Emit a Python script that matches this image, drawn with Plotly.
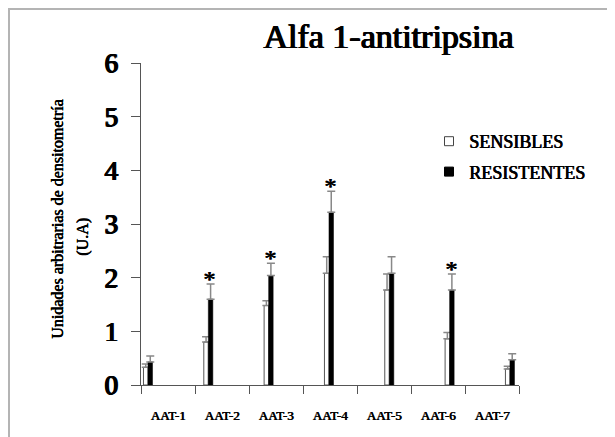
import plotly.graph_objects as go

categories = ["AAT-1", "AAT-2", "AAT-3", "AAT-4", "AAT-5", "AAT-6", "AAT-7"]
sensibles = [0.33, 0.80, 1.48, 2.08, 1.77, 0.86, 0.30]
sensibles_err = [0.06, 0.10, 0.09, 0.31, 0.30, 0.12, 0.05]
resistentes = [0.43, 1.60, 2.04, 3.22, 2.08, 1.77, 0.47]
resistentes_err = [0.11, 0.28, 0.23, 0.39, 0.31, 0.30, 0.11]
significant = [False, True, True, True, False, True, False]
y_ticks = [0, 1, 2, 3, 4, 5, 6]

SERIF = "Liberation Serif"
# Liberation Serif has no bold face installed: thicken strokes with a text shadow
B1 = "0.7px 0 0 black, 0.35px 0 0 black"
B2 = "1px 0 0 black, 0.5px 0 0 black"
B3 = "1.3px 0 0 black, 0.65px 0 0 black, 0 0.4px 0 black"

def f(size, shadow):
    return dict(family=SERIF, size=size, color="black", shadow=shadow)

pos = list(range(len(categories)))

# page body has an 8px margin: figure drawn 8px right/down
W, H = 607, 429
L, T = 133, 55
PW, PH = 378, 322

fig = go.Figure()
fig.add_trace(go.Bar(
    x=pos, y=sensibles, name="SENSIBLES", showlegend=False,
    marker=dict(color="white", line=dict(color="#555555", width=1)),
    error_y=dict(type="data", array=sensibles_err, arrayminus=[0] * len(pos),
                 symmetric=False, color="#888888", thickness=1.5, width=4),
))
fig.add_trace(go.Bar(
    x=pos, y=resistentes, name="RESISTENTES", showlegend=False,
    marker=dict(color="black", line=dict(color="black", width=0.5)),
    error_y=dict(type="data", array=resistentes_err, arrayminus=[0] * len(pos),
                 symmetric=False, color="#888888", thickness=1.5, width=4),
))
# legend entries
fig.add_trace(go.Scatter(x=[None], y=[None], mode="markers", name="SENSIBLES",
                         marker=dict(symbol="square", size=9, color="white",
                                     line=dict(color="#444444", width=1)),
                         legendgroup="a"))
fig.add_trace(go.Scatter(x=[None], y=[None], mode="markers", name="RESISTENTES",
                         marker=dict(symbol="square", size=9, color="black",
                                     line=dict(color="black", width=1)),
                         legendgroup="b"))

for i, sig in enumerate(significant):
    if sig:
        fig.add_annotation(x=pos[i], y=resistentes[i] + resistentes_err[i], xref="x", yref="y",
                           text="*", showarrow=False, yanchor="bottom",
                           yshift=-10, xshift=1, font=f(24, B2))

# y axis title (two lines)
fig.add_annotation(x=(57 - 141) / PW, y=(385 - 220) / PH, xref="paper", yref="paper",
                   xanchor="center", yanchor="middle",
                   text="Unidades arbitrarias de densitometría", textangle=-90,
                   showarrow=False, font=f(16, B1))
fig.add_annotation(x=(83 - 141) / PW, y=(385 - 237) / PH, xref="paper", yref="paper",
                   xanchor="center", yanchor="middle",
                   text="(U.A)", textangle=-90,
                   showarrow=False, font=f(16, B1))

# outer frame
fig.add_shape(type="rect", xref="paper", yref="paper",
              x0=(9 - 141) / PW, x1=2.0, y0=-1.0, y1=(385 - 9) / PH,
              line=dict(color="#b4b4b4", width=2), fillcolor="rgba(0,0,0,0)", layer="below")

fig.update_layout(
    width=W, height=H,
    font=dict(family=SERIF, color="black"),
    margin=dict(l=L, r=W - L - PW, t=T, b=H - T - PH),
    paper_bgcolor="white", plot_bgcolor="white",
    barmode="group", bargap=0.85, bargroupgap=0.0,
    title=dict(text="Alfa 1-antitripsina", x=(388 - 8) / W, xanchor="center",
               y=1 - (36 - 8) / H, yanchor="middle", yref="container",
               font=f(34, B3)),
    legend=dict(x=(429 - 141) / PW, xanchor="left", y=(385 - 123) / PH, yanchor="top",
                font=f(18, B1),
                bgcolor="rgba(0,0,0,0)", tracegroupgap=4, itemclick=False),
    xaxis=dict(range=[-0.116, 6.15], showticklabels=False, ticks="", showgrid=False,
               zeroline=False, showline=False, fixedrange=True),
    xaxis2=dict(overlaying="x", anchor="y", side="bottom", range=[0, 7],
                tickmode="array", tickvals=[p + 0.5 for p in pos],
                ticktext=categories,
                ticks="", showgrid=False, zeroline=False, showline=True,
                linecolor="#555555", linewidth=1, ticklabelstandoff=18,
                tickfont=f(13, B1),
                minor=dict(tickmode="linear", tick0=0, dtick=1, ticks="outside",
                           ticklen=8, tickcolor="#555555", tickwidth=1)),
    yaxis=dict(range=[0, 6], tickmode="array", tickvals=y_ticks,
               ticktext=[str(v) for v in y_ticks],
               ticks="outside", ticklen=9, tickcolor="#555555", tickwidth=1,
               showline=True, linecolor="#555555", linewidth=1, showgrid=False,
               zeroline=False, ticklabelstandoff=8,
               tickfont=f(27, B3)),
)
fig.add_trace(go.Scatter(x=[None], y=[None], xaxis="x2", yaxis="y", showlegend=False,
                         hoverinfo="skip"))

fig.write_html("out.html")
